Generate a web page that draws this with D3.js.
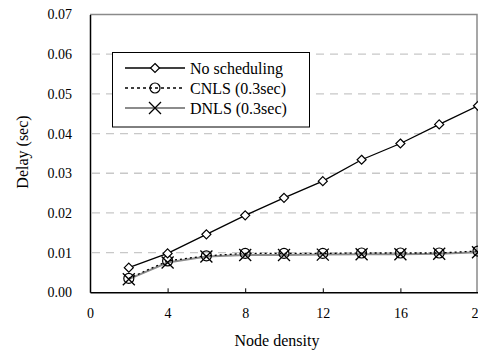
<!DOCTYPE html>
<html>
<head>
<meta charset="utf-8">
<script src="https://cdn.jsdelivr.net/npm/d3@7"></script>
</head>
<body style="margin:0;padding:0;background:#fff">
<svg id="fig" width="478" height="354" style="display:block"></svg>
<script>
// Node density on the x axis
const density = [2, 4, 6, 8, 10, 12, 14, 16, 18, 20];
// Delay (sec) per scheme
const noScheduling = [0.0062, 0.0098, 0.0146, 0.0194, 0.0238, 0.0280, 0.0334, 0.0375, 0.0423, 0.0470];
const cnls = [0.0035, 0.0079, 0.0092, 0.0098, 0.0098, 0.0098, 0.0099, 0.0099, 0.0099, 0.0104];
const dnls = [0.0033, 0.0075, 0.0090, 0.0094, 0.0094, 0.0095, 0.0096, 0.0096, 0.0097, 0.0101];
const seriesNames = ["No scheduling", "CNLS (0.3sec)", "DNLS (0.3sec)"];
const xTicks = [0, 4, 8, 12, 16, 20];
const yTicks = [0, 0.01, 0.02, 0.03, 0.04, 0.05, 0.06, 0.07];

const svg = d3.select("#fig");
const plotLeft = 90, plotRight = 477, plotTop = 14.5, plotBottom = 292.3;

const x = d3.scaleLinear().domain([0, 20]).range([plotLeft, plotRight + 1]);
const y = d3.scaleLinear().domain([0, 0.07]).range([plotBottom, plotTop]);

// Apply the serif face to a text selection
function serif(sel, size) {
  return sel
    .attr("font-size", size)
    .attr("font-family", "Liberation Serif")
    .style("font-family", d => '"Liberation Serif"')
    .attr("fill", "#000");
}

// Dashed horizontal gridlines
svg.append("g")
  .selectAll("line")
  .data(yTicks.filter(v => v > 0 && v < 0.07))
  .join("line")
  .attr("x1", plotLeft + 2).attr("x2", plotRight)
  .attr("y1", d => y(d)).attr("y2", d => y(d))
  .attr("stroke", "#c8c8c8").attr("stroke-width", 1.3)
  .attr("stroke-dasharray", "8,6");

// Frame: gray top and right edges
svg.append("path")
  .attr("d", `M${plotLeft},${plotTop}H${plotRight}V${plotBottom}`)
  .attr("fill", "none").attr("stroke", "#8a8a8a").attr("stroke-width", 1.5);

// Y axis
const yAxis = svg.append("g")
  .attr("transform", `translate(${plotLeft},0)`)
  .call(d3.axisLeft(y).tickValues(yTicks).tickFormat(d3.format(".2f")).tickSize(0).tickPadding(18));
yAxis.attr("font-family", "Liberation Serif").attr("font-size", 14);
yAxis.select(".domain").attr("stroke", "#000").attr("stroke-width", 1.5);
serif(yAxis.selectAll("text"), 14);

// X axis with inward ticks
const xAxis = svg.append("g")
  .attr("transform", `translate(0,${plotBottom})`)
  .call(d3.axisBottom(x).tickValues(xTicks).tickSize(0).tickPadding(16));
xAxis.attr("font-family", "Liberation Serif").attr("font-size", 14);
xAxis.select(".domain").attr("stroke", "#000").attr("stroke-width", 1.5);
serif(xAxis.selectAll("text"), 14);
xAxis.selectAll(".tick")
  .filter(d => d > 0 && d < 20)
  .append("line").attr("y1", 0).attr("y2", -4).attr("stroke", "#000").attr("stroke-width", 1);

// Axis titles
const titles = [
  { text: "Node density", transform: "translate(277,346)" },
  { text: "Delay (sec)", transform: "translate(28,152) rotate(-90)" }
];
serif(svg.selectAll("text.title").data(titles).join("text")
  .attr("class", "title")
  .attr("transform", d => d.transform)
  .attr("text-anchor", "middle"), 16)
  .text(d => d.text);

const line = d3.line().x((d, i) => x(density[i])).y(d => y(d));

// Marker helpers
function diamond(g, cx, cy) {
  const s = 4.5;
  g.append("path")
    .attr("d", `M${cx},${cy - s}L${cx + s},${cy}L${cx},${cy + s}L${cx - s},${cy}Z`)
    .attr("fill", "#fff").attr("stroke", "#000").attr("stroke-width", 1.2);
}
function circle(g, cx, cy) {
  g.append("circle").attr("cx", cx).attr("cy", cy).attr("r", 5)
    .attr("fill", "none").attr("stroke", "#000").attr("stroke-width", 1.2);
}
function cross(g, cx, cy) {
  const s = 6;
  g.append("path")
    .attr("d", `M${cx - s},${cy - s}L${cx + s},${cy + s}M${cx - s},${cy + s}L${cx + s},${cy - s}`)
    .attr("stroke", "#000").attr("stroke-width", 1.3);
}

const plot = svg.append("g");

// DNLS: gray solid line with crosses
plot.append("path").datum(dnls).attr("d", line)
  .attr("fill", "none").attr("stroke", "#8c8c8c").attr("stroke-width", 2);
// CNLS: black dotted line with circles
plot.append("path").datum(cnls).attr("d", line)
  .attr("fill", "none").attr("stroke", "#000").attr("stroke-width", 1.3)
  .attr("stroke-dasharray", "2,3");
// No scheduling: black solid line with diamonds
plot.append("path").datum(noScheduling).attr("d", line)
  .attr("fill", "none").attr("stroke", "#000").attr("stroke-width", 1.3);

dnls.forEach((v, i) => cross(plot, x(density[i]), y(v)));
cnls.forEach((v, i) => circle(plot, x(density[i]), y(v)));
noScheduling.forEach((v, i) => diamond(plot, x(density[i]), y(v)));

// Legend
const legend = svg.append("g");
legend.append("rect")
  .attr("x", 112.5).attr("y", 52.5).attr("width", 197).attr("height", 74.5)
  .attr("fill", "#fff").attr("stroke", "#000").attr("stroke-width", 1);

const rows = [68, 88, 108];
const styles = [
  { stroke: "#000", width: 1.3, dash: null, mark: diamond },
  { stroke: "#000", width: 1.3, dash: "3,3", mark: circle },
  { stroke: "#8c8c8c", width: 2, dash: null, mark: cross }
];
seriesNames.forEach((name, i) => {
  const st = styles[i];
  const ln = legend.append("line")
    .attr("x1", 125).attr("x2", 185).attr("y1", rows[i]).attr("y2", rows[i])
    .attr("stroke", st.stroke).attr("stroke-width", st.width);
  if (st.dash) ln.attr("stroke-dasharray", st.dash);
  st.mark(legend, 155, rows[i]);
});
serif(legend.selectAll("text").data(seriesNames).join("text")
  .attr("x", 190).attr("y", (d, i) => rows[i]).attr("dy", "0.35em"), 16)
  .text(d => d);
</script>
</body>
</html>
